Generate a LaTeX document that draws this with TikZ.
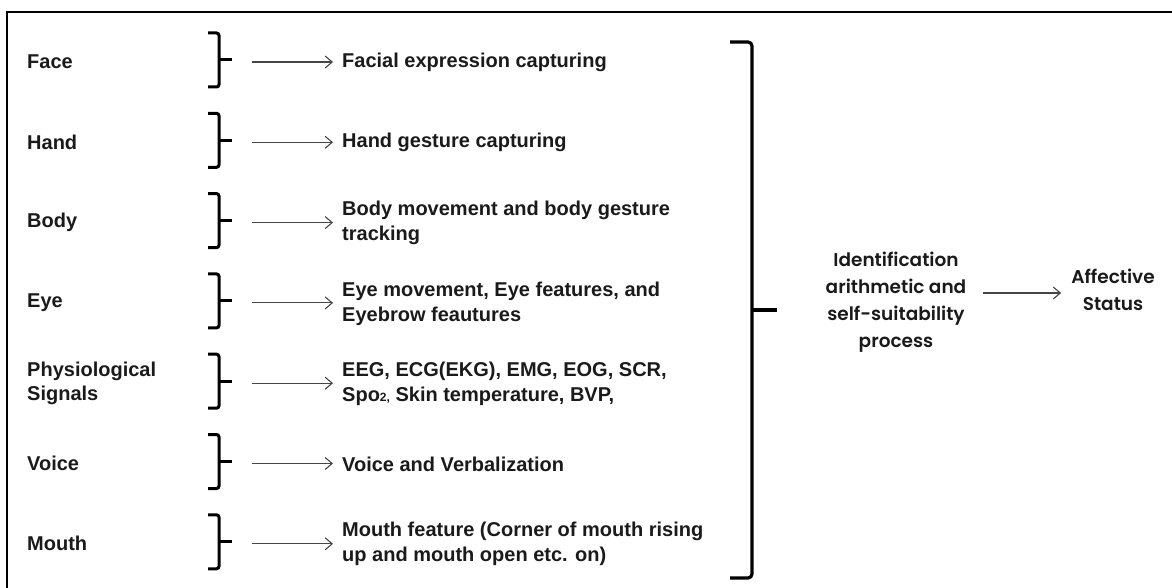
\documentclass[tikz,border=0pt]{standalone}
\usepackage{fontspec}
\setmainfont{Liberation Sans}
\newfontfamily\rfont{Poppins}[BoldFont={Poppins SemiBold}]
\usetikzlibrary{arrows.meta}
\definecolor{ink}{HTML}{1A1A1A}
\definecolor{arrowgray}{HTML}{454545}
% one modality row: index, centre y, label, description
\newcommand{\modrow}[4]{%
  \node[lbl] (L#1) at (27,#2+2) {#3};
  \draw[brc] (208,#2-27) -- (219,#2-27) -- (219,#2+27) -- (208,#2+27);
  \draw[brc] (219,#2) -- (232,#2);
  \coordinate (s#1) at (252,#2+2);
  \node[desc] (D#1) at (342,#2+2.5) {#4};
  \draw[arr, shorten >=9pt] (s#1) -- (s#1 -| D#1.west);
}
\newcommand{\smallsub}[1]{{\fontsize{12}{12}\selectfont #1}}
\begin{document}
\begin{tikzpicture}[x=1pt,y=-1pt,
  lbl/.style={anchor=west, inner sep=0pt, text=ink, align=left,
    font=\fontsize{20}{24}\selectfont\bfseries},
  desc/.style={anchor=west, inner sep=0pt, text=ink, align=left,
    font=\fontsize{20}{25}\selectfont\bfseries},
  rtext/.style={inner sep=0pt, text=ink, align=center,
    font=\rfont\fontsize{18.5}{27}\selectfont\bfseries},
  brc/.style={draw=black, line width=3pt, rounded corners=2.5pt},
  bigbrc/.style={draw=black, line width=3.2pt, rounded corners=4pt},
  arr/.style={draw=arrowgray, line width=1.1pt,
    -{Straight Barb[length=7pt,width=12pt]}},
  frameline/.style={draw=black, line width=1.8pt}]
\useasboundingbox (0,0) rectangle (1172,588);

% outer frame (top and left edges)
\draw[frameline] (7,588) -- (7,12) -- (1172,12);

% modality rows
\modrow{1}{60}{Face}{Facial expression capturing}
\modrow{2}{140.3}{Hand}{Hand gesture capturing}
\modrow{3}{220.6}{Body}{Body movement and body gesture\\tracking}
\modrow{4}{300.9}{Eye}{Eye movement, Eye features, and\\Eyebrow feautures}
\modrow{5}{381.2}{Physiological\\Signals}{EEG, ECG(EKG), EMG, EOG, SCR,\\Spo\smallsub{2,} Skin temperature, BVP,}
\modrow{6}{461.5}{Voice}{Voice and Verbalization}
\modrow{7}{541.8}{Mouth}{Mouth feature (Corner of mouth rising\\up and mouth open etc. on)}

% large brace gathering all modalities
\draw[bigbrc] (730,42) -- (752,42) -- (752,578) -- (730,578);
\draw[bigbrc] (752,310) -- (777,310);

% processing stage and result
\node[rtext] (I) at (896,302) {Identification\\arithmetic and\\self-suitability\\process};
\node[rtext] (A) at (1113,290) {Affective\\Status};
\coordinate (q) at (983,293);
\draw[arr, shorten >=10pt] (q) -- (q -| A.west);
\end{tikzpicture}
\end{document}
